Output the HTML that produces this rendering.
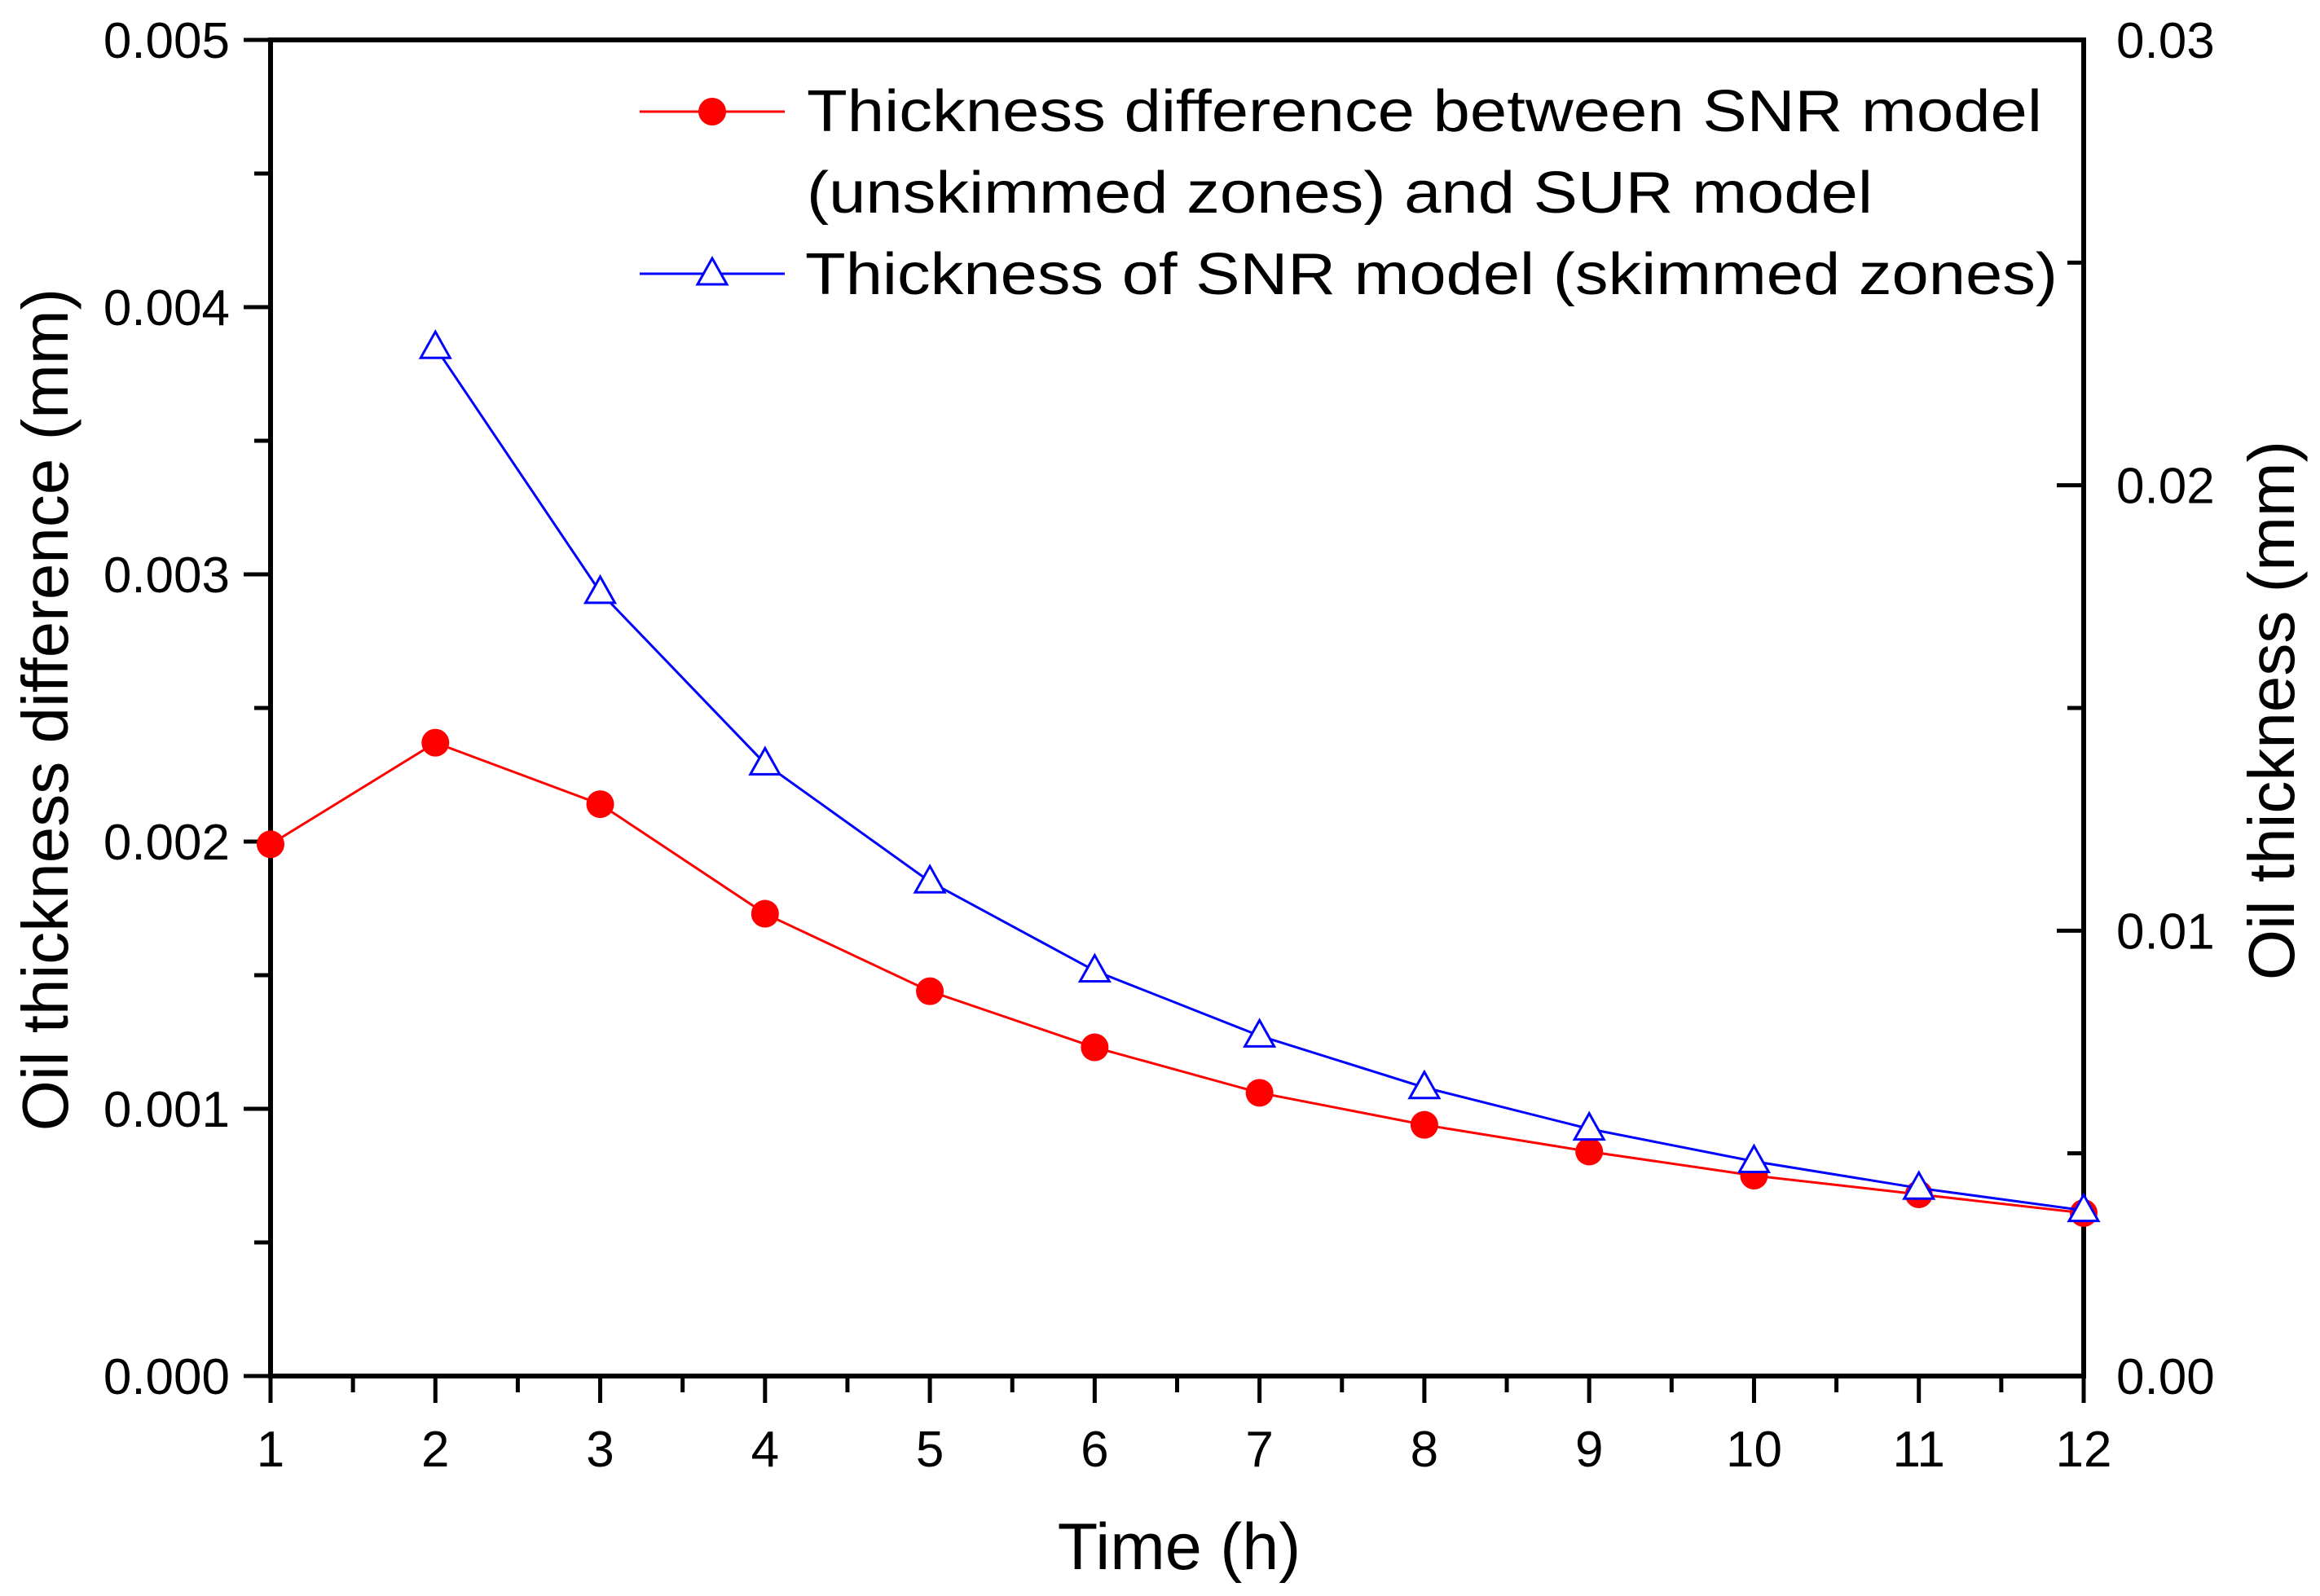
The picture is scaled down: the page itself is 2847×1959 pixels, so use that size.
<!DOCTYPE html>
<html><head><meta charset="utf-8"><style>
html,body{margin:0;padding:0;background:#fff;}
svg text{font-family:"Liberation Sans",Arial,sans-serif;fill:#000;}
</style></head><body>
<svg id="chart" width="2847" height="1954" viewBox="0 0 2847 1954" xmlns="http://www.w3.org/2000/svg">
<g id="axes"></g>
<g id="series"></g>
<g id="legend"></g>
</svg>
<script>
const hours = [1,2,3,4,5,6,7,8,9,10,11,12];
const diffValues = [0.00199,0.00237,0.00214,0.00173,0.00144,0.00123,0.00106,0.00094,0.00084,0.00075,0.00068,0.00061];
const skimHours = [2,3,4,5,6,7,8,9,10,11,12];
const skimValues = [0.0231,0.0176,0.01375,0.0111,0.0091,0.00764,0.00648,0.00555,0.00482,0.00422,0.00372];
const leftTicks = [0,0.001,0.002,0.003,0.004,0.005];
const leftTickLabels = ["0.000","0.001","0.002","0.003","0.004","0.005"];
const rightTicks = [0,0.01,0.02,0.03];
const rightTickLabels = ["0.00","0.01","0.02","0.03"];
const xTicks = [1,2,3,4,5,6,7,8,9,10,11,12];

const NS="http://www.w3.org/2000/svg";
const L=332,R=2557,T=49,B=1689;
const xS=v=>L+(v-1)/(11)*(R-L);
const yL=v=>B-v/0.005*(B-T);
const yR=v=>B-v/0.03*(B-T);
function mk(tag,attrs,parent){const e=document.createElementNS(NS,tag);for(const k in attrs)e.setAttribute(k,attrs[k]);parent.appendChild(e);return e;}
const axes=document.getElementById('axes'),series=document.getElementById('series'),legend=document.getElementById('legend');

let f=mk('rect',{x:L,y:T,width:R-L,height:B-T,fill:'none',stroke:'#000','stroke-width':6},axes);


xTicks.forEach((v,i)=>{
  let t=mk('line',{x1:xS(v),x2:xS(v),y1:B,y2:B+33,stroke:'#000','stroke-width':5},axes);
  
  if(i<xTicks.length-1){let m=mk('line',{x1:xS(v+0.5),x2:xS(v+0.5),y1:B,y2:B+20,stroke:'#000','stroke-width':5},axes);
  }
  let lb=mk('text',{x:xS(v),y:B+111,'font-size':62,'text-anchor':'middle'},axes);lb.textContent=v;
  
});
leftTicks.forEach((v,i)=>{
  let t=mk('line',{x1:L-33,x2:L,y1:yL(v),y2:yL(v),stroke:'#000','stroke-width':5},axes);
  
  if(i<leftTicks.length-1){let m=mk('line',{x1:L-20,x2:L,y1:yL(v+0.0005),y2:yL(v+0.0005),stroke:'#000','stroke-width':5},axes);
  }
  let lb=mk('text',{x:L-50,y:yL(v)+22,'font-size':62,'text-anchor':'end'},axes);lb.textContent=leftTickLabels[i];
  
});
rightTicks.forEach((v,i)=>{
  let t=mk('line',{x1:R-33,x2:R,y1:yR(v),y2:yR(v),stroke:'#000','stroke-width':5},axes);
  
  if(i<rightTicks.length-1){let m=mk('line',{x1:R-20,x2:R,y1:yR(v+0.005),y2:yR(v+0.005),stroke:'#000','stroke-width':5},axes);
  }
  let lb=mk('text',{x:R+40,y:yR(v)+22,'font-size':62,'text-anchor':'start'},axes);lb.textContent=rightTickLabels[i];
  
});
let xt=mk('text',{x:1447,y:1926,'font-size':81,'text-anchor':'middle'},axes);xt.textContent='Time (h)';

let ylt=mk('text',{x:0,y:0,'font-size':80,'text-anchor':'middle',transform:'translate(83,871) rotate(-90)'},axes);ylt.textContent='Oil thickness difference (mm)';

let yrt=mk('text',{x:0,y:0,'font-size':80,'text-anchor':'middle',transform:'translate(2815,872) rotate(-90)'},axes);yrt.textContent='Oil thickness (mm)';


let rp=mk('polyline',{points:hours.map((h,i)=>xS(h)+','+yL(diffValues[i])).join(' '),fill:'none',stroke:'#f00','stroke-width':3},series);

hours.forEach((h,i)=>{let c=mk('circle',{cx:xS(h),cy:yL(diffValues[i]),r:17,fill:'#f00'},series);
});
let bp=mk('polyline',{points:skimHours.map((h,i)=>xS(h)+','+yR(skimValues[i])).join(' '),fill:'none',stroke:'#00f','stroke-width':3},series);

function tri(cx,cy,p){return mk('polygon',{points:`${cx},${cy-19} ${cx-18},${cy+13} ${cx+18},${cy+13}`,fill:'#fff',stroke:'#00f','stroke-width':3},p);}
skimHours.forEach((h,i)=>{let t=tri(xS(h),yR(skimValues[i]),series);
});

let l1=mk('line',{x1:785,x2:963,y1:137,y2:137,stroke:'#f00','stroke-width':3},legend);

let c1=mk('circle',{cx:874,cy:137,r:17,fill:'#f00'},legend);

let t1=mk('text',{x:990,y:161,'font-size':72,textLength:1516,lengthAdjust:'spacingAndGlyphs'},legend);t1.textContent='Thickness difference between SNR model';

let t2=mk('text',{x:990,y:261,'font-size':72,textLength:1308,lengthAdjust:'spacingAndGlyphs'},legend);t2.textContent='(unskimmed zones) and SUR model';

let l2=mk('line',{x1:785,x2:963,y1:336,y2:336,stroke:'#00f','stroke-width':3},legend);

let tm=tri(874,336,legend);

let t3=mk('text',{x:988,y:361,'font-size':72,textLength:1537,lengthAdjust:'spacingAndGlyphs'},legend);t3.textContent='Thickness of SNR model (skimmed zones)';

</script>
</body></html>
